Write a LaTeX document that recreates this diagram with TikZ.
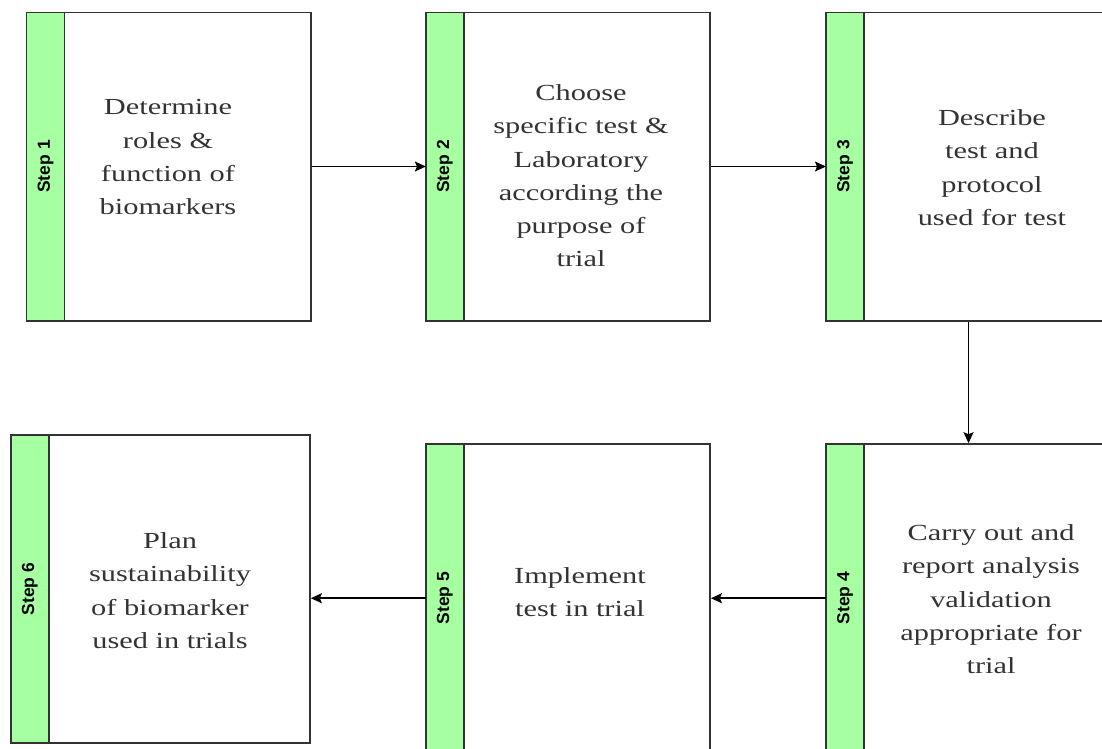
\documentclass[tikz,border=0pt]{standalone}
\usepackage{fontspec}
\usepackage{xcolor}
\usetikzlibrary{arrows.meta,positioning}
\newfontfamily\boxfont{Liberation Serif}[FakeStretch=1.32]
\newfontfamily\tagfont{Liberation Sans}
\definecolor{ink}{HTML}{333333}
\definecolor{stepgreen}{HTML}{A6FFA0}

\begin{document}
\begin{tikzpicture}[x=1pt,y=-1pt,
  box/.style={draw=ink,line width=1.6pt,minimum width=283.4,minimum height=308.4,inner sep=0},
  strip/.style={draw=ink,line width=1.6pt,fill=stepgreen,rotate=90,inner sep=0,
                minimum width=308.4,minimum height=38,
                font=\tagfont\bfseries\fontsize{17.5}{17.5}\selectfont},
  txt/.style={anchor=north,align=center,inner sep=0,text=ink,
              font=\boxfont\fontsize{23}{33.3}\selectfont},
  arr/.style={-{Stealth[length=11pt,width=10pt,inset=2pt]},line width=1.5pt,black}
]
  \path[use as bounding box,clip] (0,0) rectangle (1102,748);
  % the six steps
  \node[box] (b1) at (169,166.5)   {};
  \node[box] (b2) at (568.4,166.5) {};
  \node[box] (b3) at (968.5,166.5) {};
  \node[box] (b4) at (968.5,598.2) {};
  \node[box] (b5) at (568.4,598.2) {};
  \node[box,minimum width=298.5] (b6) at (160.8,589) {};
  \node[strip] (s1) at ([xshift=19]b1.west) {Step 1};
  \node[strip] (s2) at ([xshift=19]b2.west) {Step 2};
  \node[strip] (s3) at ([xshift=19]b3.west) {Step 3};
  \node[strip] (s4) at ([xshift=19]b4.west) {Step 4};
  \node[strip] (s5) at ([xshift=19]b5.west) {Step 5};
  \node[strip] (s6) at ([xshift=19]b6.west) {Step 6};
  \node[txt] (t1) at (168,99.3)  {Determine\\ roles \&\\ function of\\ biomarkers};
  \node[txt] (t2) at (581,84.3)  {Choose\\ specific test \&\\ Laboratory\\ according the\\ purpose of\\ trial};
  \node[txt] (t3) at (992,109.3) {Describe\\ test and\\ protocol\\ used for test};
  \node[txt] (t4) at (991,524.3) {Carry out and\\ report analysis\\ validation\\ appropriate for\\ trial};
  \node[txt] (t5) at (580,567.3) {Implement\\ test in trial};
  \node[txt] (t6) at (170,532.3) {Plan\\ sustainability\\ of biomarker\\ used in trials};
  % flow
  \draw[arr] (b1.east)  -- (b2.west);
  \draw[arr] (b2.east)  -- (b3.west);
  \draw[arr] (b3.south) -- (b4.north);
  \draw[arr] (b4.west)  -- (b5.east);
  \draw[arr] (b5.west)  -- (b5.west -| b6.east);
\end{tikzpicture}
\end{document}
